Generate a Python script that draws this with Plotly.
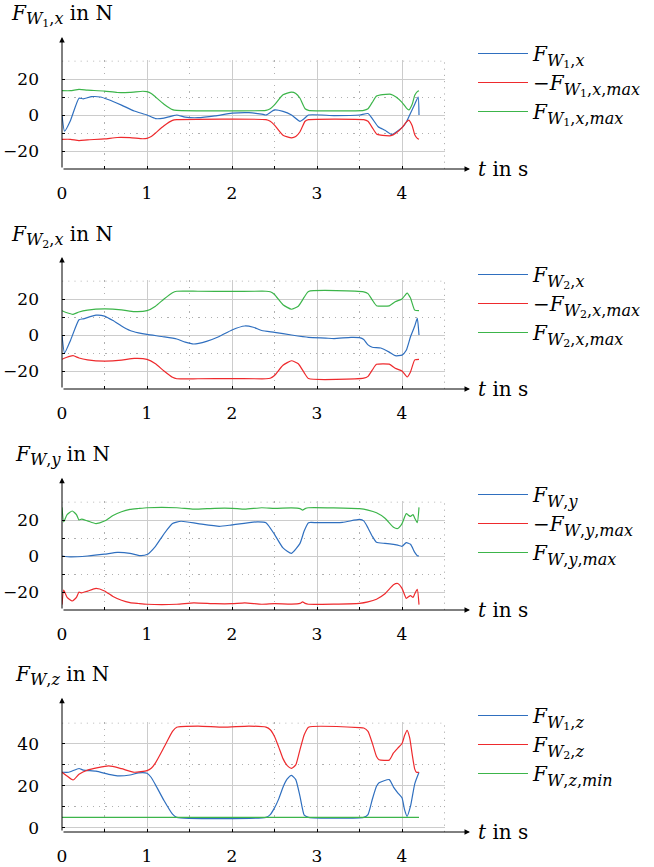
import plotly.graph_objects as go

# ---------------- data ----------------
# Panel 1: F_W1,x
t_w1x = [0, 0.03, 0.1, 0.2, 0.25, 0.35, 0.45, 0.55, 0.7, 0.85,
         1.0, 1.1, 1.2, 1.3, 1.35, 1.45, 1.6, 1.8, 2.0, 2.2,
         2.35, 2.4, 2.5, 2.6, 2.7, 2.8, 2.85, 2.9, 3.2, 3.5,
         3.6, 3.65, 3.72, 3.8, 3.88, 4.0, 4.05, 4.1, 4.15, 4.19, 4.2]
f_w1x = [0, -9, -3, 9.3, 9, 10.2, 10, 8.5, 5.5, 2.2,
         0, -2, -1.7, -0.5, 0, -1.2, -1.5, -0.5, 1, 1.3,
         0.5, 0, 2.8, 2, 0, -3.5, -2, 0, -0.3, 0,
         0.8, -2, -6.5, -8.5, -10.8, -7, -4, 1, 6, 10, 0]
t_w1x_max = [0, 0.1, 0.2, 0.3, 0.5, 0.65, 0.8, 0.95, 1.0, 1.05,
             1.1, 1.2, 1.3, 1.35, 2.4, 2.45, 2.5, 2.6, 2.7, 2.75,
             2.8, 2.86, 2.9, 3.55, 3.6, 3.65, 3.7, 3.75, 3.87, 3.93,
             4.0, 4.05, 4.08, 4.12, 4.15, 4.18, 4.2]
f_w1x_max = [13.5, 13.5, 14.2, 13.8, 13.3, 12.5, 12.6, 13.2, 13.0, 12.0,
             10.0, 6.0, 3.0, 2.6, 2.6, 3.5, 5.6, 11.2, 12.7, 12.0,
             9.3, 3.5, 2.6, 2.6, 3.5, 7.0, 10.5, 11.2, 11.5, 10.0,
             7.0, 4.0, 2.8, 6.0, 11.0, 13.0, 13.5]
f_w1x_negmax = [-13.5, -13.5, -14.2, -13.8, -13.3, -12.5, -12.6, -13.2, -13.0, -12.0,
                -10.0, -6.0, -3.0, -2.6, -2.6, -3.5, -5.6, -11.2, -12.7, -12.0,
                -9.3, -3.5, -2.6, -2.6, -3.5, -7.0, -10.5, -11.2, -11.5, -10.0,
                -7.0, -4.0, -2.8, -6.0, -11.0, -13.0, -13.5]

# Panel 2: F_W2,x
t_w2x = [0, 0.03, 0.1, 0.2, 0.25, 0.4, 0.5, 0.6, 0.7, 0.8,
         0.9, 1.0, 1.2, 1.35, 1.45, 1.55, 1.7, 1.85, 2.0, 2.15,
         2.25, 2.35, 2.5, 2.7, 2.9, 3.1, 3.2, 3.4, 3.5, 3.55,
         3.6, 3.65, 3.75, 3.85, 3.92, 4.0, 4.05, 4.1, 4.15, 4.18, 4.2]
f_w2x = [0, -10, -3, 8.5, 9, 11, 10.5, 8, 5, 2.5,
         1.2, 0.3, -1, -2.2, -4, -5, -3.5, -0.8, 2.8, 5,
         4.3, 2.5, 1.5, 0, -1.3, -1.7, -2, -1.3, -1.5, -2.5,
         -5.5, -6.8, -7.2, -9.5, -11.5, -11.2, -8.5, -1, 5, 9.2, 0]
t_w2x_max = [0, 0.05, 0.13, 0.2, 0.3, 0.5, 0.7, 0.85, 1.0, 1.1,
             1.2, 1.3, 1.35, 1.6, 2.0, 2.4, 2.45, 2.5, 2.6, 2.7,
             2.78, 2.85, 2.9, 3.55, 3.6, 3.65, 3.7, 3.85, 3.92, 4.0,
             4.06, 4.1, 4.15, 4.2]
f_w2x_max = [13.5, 12.5, 11.5, 12.8, 13.8, 14.5, 14, 13, 13.5, 16,
             20, 23.5, 24.3, 24.3, 24.2, 24.3, 24, 22.5, 16.8, 14.3,
             16, 21, 24.2, 24, 23, 19.5, 16.3, 16.2, 18.5, 20,
             23.3, 20.5, 13.8, 13.5]
f_w2x_negmax = [-13.5, -12.5, -11.5, -12.8, -13.8, -14.5, -14, -13, -13.5, -16,
                -20, -23.5, -24.3, -24.3, -24.2, -24.3, -24, -22.5, -16.8, -14.3,
                -16, -21, -24.2, -24, -23, -19.5, -16.3, -16.2, -18.5, -20,
                -23.3, -20.5, -13.8, -13.5]

# Panel 3: F_W,y
t_wy = [0, 0.1, 0.3, 0.5, 0.65, 0.8, 0.92, 1.0, 1.1, 1.2,
        1.3, 1.4, 1.6, 1.85, 2.0, 2.3, 2.4, 2.5, 2.6, 2.7,
        2.8, 2.85, 2.9, 3.0, 3.3, 3.5, 3.55, 3.6, 3.65, 3.7,
        3.8, 3.9, 3.95, 4.0, 4.05, 4.1, 4.15, 4.18, 4.2]
f_wy = [0, -0.5, 0, 1, 2, 1.5, 0.2, 0.8, 5.4, 12.3,
        18, 19.3, 18, 16.5, 17.3, 19, 18.5, 12, 4.5, 1.5,
        7, 14, 18.5, 18.5, 18.7, 20.3, 19.5, 15.6, 11, 7.6,
        7, 6.5, 6, 5.4, 7.4, 6.5, 2, 0.2, 0]
t_wy_max = [0, 0.02, 0.06, 0.12, 0.17, 0.2, 0.23, 0.3, 0.4, 0.5,
            0.6, 0.7, 0.8, 0.9, 1.0, 1.35, 1.55, 1.8, 2.0, 2.15,
            2.35, 2.5, 2.7, 2.8, 2.83, 2.86, 2.9, 3.5, 3.6, 3.7,
            3.8, 3.9, 3.95, 4.0, 4.05, 4.08, 4.1, 4.13, 4.15, 4.18, 4.2]
f_wy_max = [27, 19, 23, 25, 23, 20, 20.5, 19.5, 18, 19.4,
            22.5, 24.6, 25.9, 26.4, 26.8, 26.8, 26, 26.5, 26.5, 26,
            26.8, 26.5, 26.7, 26.3, 25.5, 26.3, 26.8, 26.3, 25.5, 24,
            21, 16, 15.3, 18, 23.5, 22.5, 22, 23, 21, 18.5, 27]
f_wy_negmax = [-27, -19, -23, -25, -23, -20, -20.5, -19.5, -18, -19.4,
               -22.5, -24.6, -25.9, -26.4, -26.8, -26.8, -26, -26.5, -26.5, -26,
               -26.8, -26.5, -26.7, -26.3, -25.5, -26.3, -26.8, -26.3, -25.5, -24,
               -21, -16, -15.3, -18, -23.5, -22.5, -22, -23, -21, -18.5, -27]

# Panel 4: F_W,z
t_w1z = [0, 0.08, 0.2, 0.25, 0.4, 0.55, 0.65, 0.8, 0.9, 1.0,
         1.05, 1.1, 1.2, 1.3, 1.35, 2.4, 2.45, 2.5, 2.55, 2.6,
         2.65, 2.7, 2.75, 2.8, 2.85, 2.9, 3.55, 3.6, 3.65, 3.7,
         3.73, 3.85, 3.9, 3.95, 4.0, 4.03, 4.06, 4.1, 4.15, 4.2]
f_w1z = [26.5, 26.5, 28.3, 27.5, 27, 25.5, 24.8, 25.2, 26.2, 26,
         24, 20.5, 13, 6.5, 5, 5, 6.3, 9.5, 13.8, 19.4,
         23.3, 25, 23, 15, 6, 5, 5, 6.3, 13.5, 19.8,
         21.5, 23, 19.4, 16.7, 14.3, 8.7, 5.5, 10.3, 21, 26.5]
t_w2z = [0, 0.05, 0.13, 0.2, 0.3, 0.55, 0.7, 0.85, 1.0, 1.05,
         1.1, 1.2, 1.3, 1.35, 1.6, 1.9, 2.2, 2.4, 2.45, 2.5,
         2.55, 2.6, 2.65, 2.7, 2.75, 2.8, 2.85, 2.9, 3.5, 3.55,
         3.6, 3.65, 3.7, 3.73, 3.85, 3.9, 3.95, 4.0, 4.03, 4.06,
         4.09, 4.12, 4.15, 4.17, 4.2]
f_w2z = [26.5, 25, 22.8, 25.5, 27.5, 29.5, 28.2, 26.5, 27.3, 28.4,
         31, 38.4, 46, 48, 48.5, 48, 48.5, 48, 46.8, 43.6,
         38.5, 33, 29.7, 28.4, 30, 37.3, 44.4, 48, 47.8, 47.6,
         46, 40.5, 34, 32.5, 32.3, 35.7, 38, 40.2, 44, 46.5,
         43, 35, 28, 26.5, 26.5]
t_wz_min = [0, 4.2]
f_wz_min = [5, 5]

# ---------------- style / layout ----------------
W, H = 654, 867
BLUE, RED, GREEN = "#2f6fbf", "#ee2a2d", "#3cb54a"
FONT = "'DejaVu Serif', 'Liberation Serif', serif"
FS_TICK = 17
FS_TEXT = 20
S1, S2 = 16, 11   # subscript / second-level subscript sizes (px)


def F(sub1=None, rest="", neg=False):
    """Build F_{W_sub1 rest} as plotly rich text."""
    s = "−" if neg else ""
    s += "<i>F</i><sub><span style='font-size:%dpx'><i>W</i></span>" % S1
    if sub1 is not None:
        s += "<sub><span style='font-size:%dpx'>%s</span></sub>" % (S2, sub1)
    s += "<span style='font-size:%dpx'>%s</span></sub>" % (S1, rest)
    return s


X_, Y_, Z_ = ",<i>x</i>", ",<i>y</i>", ",<i>z</i>"
XM, YM, ZM = ",<i>x</i>,<i>max</i>", ",<i>y</i>,<i>max</i>", ",<i>z</i>,<i>min</i>"
names = [
    [F("1", X_), F("1", XM, True), F("1", XM)],
    [F("2", X_), F("2", XM, True), F("2", XM)],
    [F(None, Y_), F(None, YM, True), F(None, YM)],
    [F("1", Z_), F("2", Z_), F(None, ZM)],
]
titles = [F("1", X_) + " in N", F("2", X_) + " in N",
          F(None, Y_) + " in N", F(None, Z_) + " in N"]
series = [
    [(t_w1x, f_w1x, BLUE), (t_w1x_max, f_w1x_negmax, RED), (t_w1x_max, f_w1x_max, GREEN)],
    [(t_w2x, f_w2x, BLUE), (t_w2x_max, f_w2x_negmax, RED), (t_w2x_max, f_w2x_max, GREEN)],
    [(t_wy, f_wy, BLUE), (t_wy_max, f_wy_negmax, RED), (t_wy_max, f_wy_max, GREEN)],
    [(t_w1z, f_w1z, BLUE), (t_w2z, f_w2z, RED), (t_wz_min, f_wz_min, GREEN)],
]
# pixel layout of each panel: bottom px, top px, ymin, ymax, arrow tip value,
# major, minor, title px, first legend item px
panels = [
    (169, 61, -30, 30, 43.3, 20, 10, 16, 55),
    (389, 281, -30, 30, 43.3, 20, 10, 236, 276),
    (610, 502, -30, 30, 43.5, 20, 10, 455, 496),
    (832, 723, -2, 50, 62.0, 20, 10, 675, 717),
]
XL, XR = 62, 444.5
XMAX, XARROW = 4.5, 4.8


def xp(px):
    return px / W


def yp(px):
    return 1 - px / H


fig = go.Figure()
layout = dict(width=W, height=H, margin=dict(l=0, r=0, t=0, b=0, autoexpand=False),
              paper_bgcolor="white", plot_bgcolor="white",
              font=dict(family=FONT, size=FS_TEXT, color="black"),
              annotations=[], shapes=[], showlegend=True)

grid_major = "#cccccc"
grid_minor = "#b0b0b0"
MINOR_DASH = "1.2px,5px"

for i, (pan, ser, nm, ttl) in enumerate(zip(panels, series, names, titles)):
    k = i + 1
    sfx = "" if k == 1 else str(k)
    ybot, ytop, ymin, ymax, yarrow, ymaj, ymin_t, ttl_px, leg_px = pan
    for j, ((tx, vy, col), label) in enumerate(zip(ser, nm)):
        fig.add_trace(go.Scatter(
            x=tx, y=vy, mode="lines", name=label,
            line=dict(color=col, width=1.2, shape="spline", smoothing=0.5),
            xaxis="x" + sfx, yaxis="y" + sfx, legend="legend" + sfx,
            legendgroup="g%d_%d" % (k, j)))
    span_y = ymax - ymin
    ppx = (XR - XL) / XMAX
    ppy = (ybot - ytop) / span_y
    layout["xaxis" + sfx] = dict(
        domain=[xp(XL), xp(XR + 0.6)], range=[0, XMAX + 0.6 / ppx], anchor="y" + sfx,
        automargin=False,
        tick0=0, dtick=1, showgrid=True, gridcolor=grid_major, gridwidth=1.4,
        zeroline=False, showline=False, ticks="inside", ticklen=3,
        tickcolor="black", ticklabelstandoff=12,
        tickfont=dict(size=FS_TICK, family=FONT),
        minor=dict(tick0=0, dtick=0.5, ticks="inside", ticklen=3, tickcolor="black",
                   showgrid=True, gridcolor=grid_minor, griddash=MINOR_DASH, gridwidth=1))
    layout["yaxis" + sfx] = dict(
        domain=[yp(ybot), yp(ytop - 0.6)], range=[ymin, ymax + 0.6 / ppy], anchor="x" + sfx,
        automargin=False,
        tick0=0, dtick=ymaj, showgrid=True, gridcolor=grid_major, gridwidth=1.4,
        zeroline=False, showline=False, ticks="inside", ticklen=3,
        tickcolor="black", ticklabelstandoff=22,
        tickfont=dict(size=FS_TICK, family=FONT),
        minor=dict(tick0=0, dtick=ymin_t, ticks="inside", ticklen=3, tickcolor="black",
                   showgrid=True, gridcolor=grid_minor, griddash=MINOR_DASH, gridwidth=1))
    # dotted outer grid edges (top and right)
    layout["shapes"].append(dict(type="line", xref="x" + sfx, yref="y" + sfx,
                                 x0=0, x1=XMAX, y0=ymax, y1=ymax, layer="below",
                                 line=dict(color=grid_minor, width=1, dash=MINOR_DASH)))
    layout["shapes"].append(dict(type="line", xref="x" + sfx, yref="y" + sfx,
                                 x0=XMAX, x1=XMAX, y0=ymin, y1=ymax, layer="below",
                                 line=dict(color=grid_minor, width=1, dash=MINOR_DASH)))
    # axis arrows (paper coords, tip computed from data scale)
    tip_x = XL + XARROW * ppx
    tip_y = ybot - (yarrow - ymin) * ppy
    layout["annotations"].append(dict(
        xref="paper", yref="paper", x=xp(tip_x), y=yp(ybot), ax=-(tip_x - XL), ay=0,
        text="", showarrow=True, arrowhead=2, arrowsize=1.1, arrowwidth=1, arrowcolor="black"))
    layout["annotations"].append(dict(
        xref="paper", yref="paper", x=xp(XL), y=yp(tip_y), ax=0, ay=(ybot - tip_y),
        text="", showarrow=True, arrowhead=2, arrowsize=1.1, arrowwidth=1, arrowcolor="black"))
    layout["annotations"].append(dict(
        xref="paper", yref="paper", x=xp(XL), y=yp(ttl_px), xanchor="center", yanchor="middle",
        text=ttl, showarrow=False, font=dict(size=FS_TEXT, family=FONT)))
    layout["annotations"].append(dict(
        xref="paper", yref="paper", x=xp(476), y=yp(ybot), xanchor="left", yanchor="middle",
        text="<i>t</i> in s", showarrow=False, font=dict(size=FS_TEXT, family=FONT)))
    layout["legend" + sfx] = dict(
        x=xp(473), y=yp(leg_px - 21), xanchor="left", yanchor="top",
        bgcolor="rgba(0,0,0,0)", font=dict(size=FS_TEXT, family=FONT),
        itemwidth=50, tracegroupgap=0, traceorder="grouped")

fig.update_layout(**layout)
# remove the default 8px page margin so the figure sits at the window origin
fig.write_html("out.html", config={"displayModeBar": False},
               post_script="document.body.style.margin='0';")
